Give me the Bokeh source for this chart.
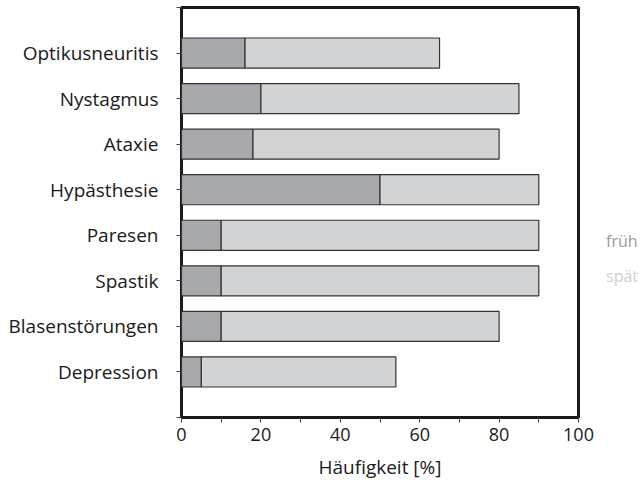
from bokeh.plotting import figure
from bokeh.models import ColumnDataSource, FixedTicker, Range1d, Div
from bokeh.layouts import row
from bokeh.embed import file_html
from bokeh.resources import INLINE

categories = ["Optikusneuritis", "Nystagmus", "Ataxie", "Hypästhesie",
              "Paresen", "Spastik", "Blasenstörungen", "Depression"]
frueh = [16, 20, 18, 50, 10, 10, 10, 5]
spaet = [49, 65, 62, 40, 80, 80, 70, 49]
series = ["früh", "spät"]
colors = ["#a8a9ad", "#d2d3d5"]
legend_colors = ["#9a9a9a", "#cfcfcf"]
x_ticks = [0, 10, 20, 30, 40, 50, 60, 70, 80, 90, 100]
x_labels = ["0", "", "20", "", "40", "", "60", "", "80", "", "100"]

n = len(categories)
ypos = [n - i for i in range(n)]
source = ColumnDataSource(dict(y=ypos, **{"früh": frueh, "spät": spaet}))

FONT = "Open Sans"

p = figure(width=598, height=485, output_backend="svg", toolbar_location=None,
           x_range=Range1d(0, 100), y_range=Range1d(0, n + 1),
           min_border_left=181, min_border_right=20, min_border_top=7,
           min_border_bottom=68)

p.hbar_stack(series, y="y", height=0.66, source=source, color=colors,
             line_color="#333333", line_width=1.2)

p.grid.visible = False
p.outline_line_color = "#1a1a1a"
p.outline_line_width = 3
p.background_fill_color = "white"
p.border_fill_color = "white"

p.xaxis.ticker = FixedTicker(ticks=x_ticks)
p.xaxis.major_label_overrides = {t: l for t, l in zip(x_ticks, x_labels)}
p.xaxis.minor_tick_line_color = None
p.xaxis.axis_label = "Häufigkeit [%]"

y_ticks = list(range(0, n + 2))
p.yaxis.ticker = FixedTicker(ticks=y_ticks)
overrides = {0: "", n + 1: ""}
for c, y in zip(categories, ypos):
    overrides[y] = c
p.yaxis.major_label_overrides = overrides
p.yaxis.minor_tick_line_color = None

for ax in (p.xaxis[0], p.yaxis[0]):
    ax.axis_line_color = None
    ax.major_tick_out = 5
    ax.major_tick_in = 0
    ax.major_tick_line_color = "#444444"
    ax.major_label_text_font = FONT
    ax.major_label_text_color = "#1a1a1a"
    ax.axis_label_text_font = FONT
    ax.axis_label_text_font_size = "19px"
    ax.axis_label_text_font_style = "normal"
    ax.axis_label_text_color = "#1a1a1a"

p.yaxis.major_label_text_font_size = "19px"
p.xaxis.major_label_text_font_size = "18px"
p.yaxis.major_label_standoff = 18
p.xaxis.major_label_standoff = 5
p.xaxis.axis_label_standoff = 10

# legend as text only (as in the reference), placed to the right of the plot
items = "".join(
    f'<div style="color:{c};height:35px;line-height:35px;">{s}</div>'
    for s, c in zip(series, legend_colors)
)
legend_html = (f'<div style="font-family:\'{FONT}\';font-size:16px;'
               f'padding-top:219px;padding-left:3px;white-space:nowrap;">{items}</div>')
legend = Div(text=legend_html, width=45, height=485,
             styles={"overflow": "visible"})

layout = row(p, legend)
open("out.html", "w").write(file_html(layout, INLINE))
